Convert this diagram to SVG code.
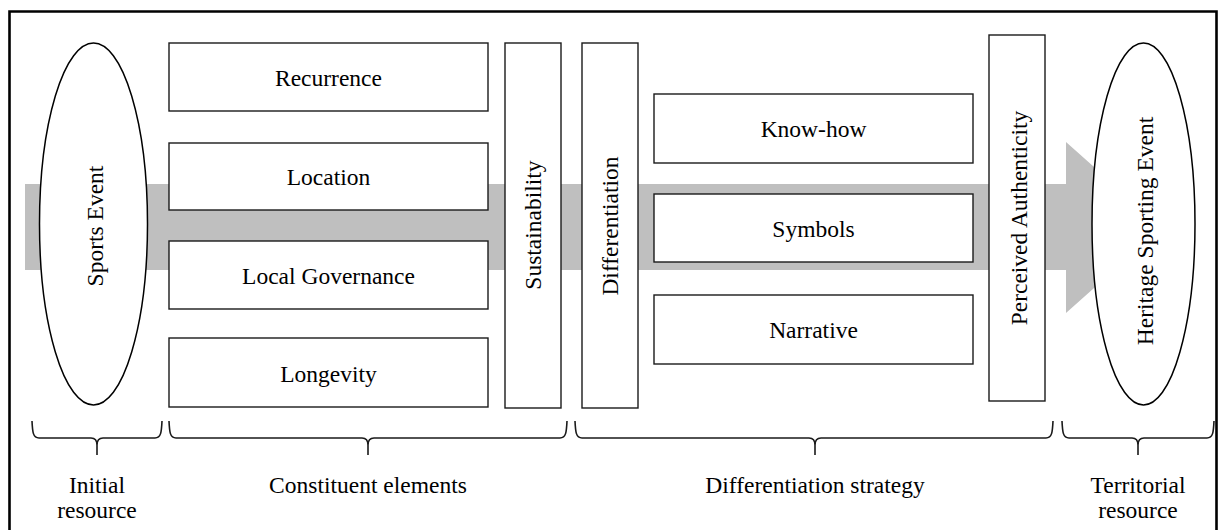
<svg xmlns="http://www.w3.org/2000/svg" width="1218" height="530" viewBox="0 0 1218 530">
  <style>
    text { font-family: "Liberation Serif", "Times New Roman", serif; font-size: 23.5px; fill: #000; text-anchor: middle; }
    .box { fill: #fff; stroke: #1a1a1a; stroke-width: 1.4; }
    .oval { fill: #fff; stroke: #000; stroke-width: 1.5; }
    .brace { fill: none; stroke: #1a1a1a; stroke-width: 1.6; }
    .frame { fill: none; stroke: #000; stroke-width: 2.6; }
  </style>

  <rect width="1218" height="530" fill="#fff"/>
  <path class="frame" d="M9.5 540 V11.5 H1216.5 V540"/>

  <!-- connectors: the broad flow arrow running behind the stages -->
  <g id="connectors">
    <polygon fill="#bfbfbf" points="25,184 1066,184 1066,142 1162,227.5 1066,313 1066,270 25,270"/>
  </g>

  <!-- initial resource -->
  <g id="sports-event">
    <ellipse class="oval" cx="93.5" cy="224" rx="54" ry="181"/>
    <text transform="translate(103,226) rotate(-90)">Sports Event</text>
  </g>

  <!-- constituent elements -->
  <g id="recurrence">
    <rect class="box" x="169" y="43" width="319" height="68"/>
    <text x="328.5" y="86">Recurrence</text>
  </g>
  <g id="location">
    <rect class="box" x="169" y="143" width="319" height="67"/>
    <text x="328.5" y="185">Location</text>
  </g>
  <g id="local-governance">
    <rect class="box" x="169" y="241" width="319" height="68"/>
    <text x="328.5" y="284">Local Governance</text>
  </g>
  <g id="longevity">
    <rect class="box" x="169" y="338" width="319" height="69"/>
    <text x="328.5" y="382">Longevity</text>
  </g>
  <g id="sustainability">
    <rect class="box" x="505" y="43" width="56" height="365"/>
    <text transform="translate(541,225) rotate(-90)">Sustainability</text>
  </g>

  <!-- differentiation strategy -->
  <g id="differentiation">
    <rect class="box" x="582" y="43" width="56" height="365"/>
    <text transform="translate(618,226) rotate(-90)">Differentiation</text>
  </g>
  <g id="know-how">
    <rect class="box" x="654" y="94" width="319" height="69"/>
    <text x="813.5" y="137">Know-how</text>
  </g>
  <g id="symbols">
    <rect class="box" x="654" y="194" width="319" height="68"/>
    <text x="813.5" y="237">Symbols</text>
  </g>
  <g id="narrative">
    <rect class="box" x="654" y="295" width="319" height="69"/>
    <text x="813.5" y="338">Narrative</text>
  </g>
  <g id="perceived-authenticity">
    <rect class="box" x="989" y="35" width="56" height="366"/>
    <text transform="translate(1027,218) rotate(-90)">Perceived Authenticity</text>
  </g>

  <!-- territorial resource -->
  <g id="heritage-sporting-event">
    <ellipse class="oval" cx="1143.5" cy="224" rx="51.5" ry="181"/>
    <text transform="translate(1153,231) rotate(-90)">Heritage Sporting Event</text>
  </g>

  <!-- stage braces and captions -->
  <g id="stage-initial">
    <path class="brace" d="M32 421 C32.5 432 33 438 39 438 L91 438 Q97 438 97 445 L97 455 M97 445 Q97 438 103 438 L155 438 C161 438 161.5 432 162 421"/>
    <text x="97" y="493">Initial</text>
    <text x="97" y="518">resource</text>
  </g>
  <g id="stage-constituent">
    <path class="brace" d="M169 421 C169.5 432 170 438 176 438 L362 438 Q368 438 368 445 L368 455 M368 445 Q368 438 374 438 L560 438 C566 438 566.5 432 567 421"/>
    <text x="368" y="493">Constituent elements</text>
  </g>
  <g id="stage-differentiation">
    <path class="brace" d="M575 421 C575.5 432 576 438 582 438 L809 438 Q815 438 815 445 L815 455 M815 445 Q815 438 821 438 L1046 438 C1052 438 1052.5 432 1053 421"/>
    <text x="815" y="493">Differentiation strategy</text>
  </g>
  <g id="stage-territorial">
    <path class="brace" d="M1062 421 C1062.5 432 1063 438 1069 438 L1132 438 Q1138 438 1138 445 L1138 455 M1138 445 Q1138 438 1144 438 L1207 438 C1213 438 1213.5 432 1214 421"/>
    <text x="1138" y="493">Territorial</text>
    <text x="1138" y="518">resource</text>
  </g>
</svg>
